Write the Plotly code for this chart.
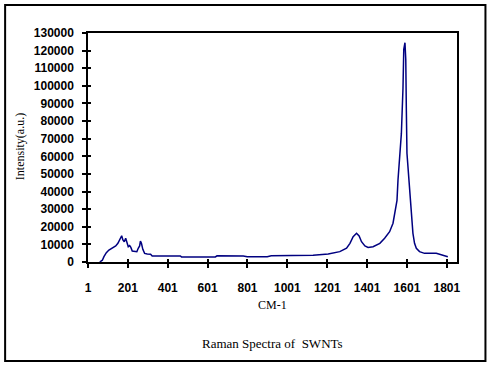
import plotly.graph_objects as go

# Raman shift (cm-1) and intensity
wavenumber = [60, 73, 81, 93, 106, 123, 140, 151, 161, 170, 176, 183, 190, 196, 203,
              210, 216, 223, 236, 246, 253, 260, 264, 269, 276, 285, 298, 315, 323,
              340, 400, 464, 470, 560, 640, 648, 700, 780, 800, 900, 920, 1000, 1064,
              1130, 1206, 1264, 1298, 1315, 1331, 1348, 1361, 1373, 1390, 1406, 1431,
              1465, 1489, 1514, 1531, 1544, 1551, 1556, 1564, 1573, 1581, 1585, 1591,
              1595, 1598, 1601, 1611, 1619, 1626, 1631, 1639, 1648, 1664, 1689, 1748,
              1773, 1806]
intensity = [0, 1000, 3000, 5300, 6800, 8100, 9100, 10600, 12500, 14900, 12500, 11500,
             13500, 10600, 8700, 9300, 8300, 6200, 5800, 5800, 7800, 9100, 11900, 10600,
             7200, 4900, 4500, 4400, 3400, 3400, 3400, 3400, 2900, 2900, 2900, 3500, 3500,
             3400, 3000, 3000, 3600, 3600, 3500, 3800, 4500, 5900, 7800, 10600, 14400,
             16300, 14800, 11500, 9100, 8300, 8700, 10600, 13500, 17200, 22000, 31400,
             35000, 46500, 61700, 73000, 98600, 120800, 124500, 115000, 85900, 61700,
             46500, 33300, 23800, 16300, 10600, 7800, 5900, 4900, 4900, 4000, 3000]

x_ticks = [1, 201, 401, 601, 801, 1001, 1201, 1401, 1601, 1801]
y_ticks = list(range(0, 130001, 10000))

title_text = "Raman Spectra of \u00a0SWNTs"
x_title = "CM-1"
y_title = "Intensity(a.u.)"

X_RANGE = [1, 1852]
Y_RANGE = [0, 130000]

tick_font = dict(family="Liberation Sans, Arial, sans-serif", size=12, color="black",
                 weight="bold")
serif = dict(family="Liberation Serif, Times New Roman, serif", size=12, color="black")

fig = go.Figure()
fig.add_trace(go.Scatter(x=wavenumber, y=intensity, mode="lines",
                         line=dict(color="#000080", width=1.5), showlegend=False))

fig.update_layout(
    width=492, height=366,
    margin=dict(l=88, r=34.5, t=33, b=104),
    paper_bgcolor="white", plot_bgcolor="white",
    xaxis=dict(range=X_RANGE, tickvals=x_ticks, ticktext=[str(v) for v in x_ticks],
               showgrid=False, zeroline=False, showline=True, linecolor="black",
               linewidth=1.5, mirror=True, ticks="outside", ticklen=4, tickwidth=1.5,
               tickcolor="black", tickfont=tick_font, ticklabelstandoff=10),
    yaxis=dict(range=Y_RANGE, tickvals=y_ticks, ticktext=[str(v) for v in y_ticks],
               showgrid=False, zeroline=False,
               showline=True, linecolor="black", linewidth=1.5, mirror=True,
               ticks="outside", ticklen=4, tickwidth=1.5, tickcolor="black",
               tickfont=tick_font, ticklabelstandoff=6),
    xaxis2=dict(range=X_RANGE, overlaying="x", tickvals=x_ticks, showticklabels=False,
                showgrid=False, zeroline=False, ticks="inside", ticklen=3, tickwidth=1.5,
                tickcolor="black", side="bottom"),
    yaxis2=dict(range=Y_RANGE, overlaying="y", tickvals=y_ticks, showticklabels=False,
                showgrid=False, zeroline=False, ticks="inside", ticklen=3, tickwidth=1.5,
                tickcolor="black", side="left"),
    annotations=[
        dict(text=y_title, xref="paper", yref="paper", x=-0.184, y=0.502, textangle=-90,
             showarrow=False, font=serif, xanchor="center", yanchor="middle"),
        dict(text=x_title, xref="paper", yref="paper", x=0.5, y=-0.186,
             showarrow=False, font=serif, xanchor="center", yanchor="middle"),
        dict(text=title_text, xref="paper", yref="paper", x=0.5, y=-0.354,
             showarrow=False, font=dict(family="Liberation Serif, Times New Roman, serif",
                                        size=13, color="black"),
             xanchor="center", yanchor="middle"),
    ],
    shapes=[dict(type="rect", xref="paper", yref="paper", x0=-0.2246, x1=1.0771,
                 y0=-0.4323, y1=1.1223, line=dict(color="black", width=2),
                 fillcolor="rgba(0,0,0,0)", layer="above")],
)
# invisible helper trace so the overlaying axes are drawn
fig.add_trace(go.Scatter(x=[X_RANGE[0]], y=[Y_RANGE[0]], xaxis="x2", yaxis="y2",
                         mode="markers", marker=dict(opacity=0), hoverinfo="skip",
                         showlegend=False))

fig.write_html("out.html", config={"displayModeBar": False},
               post_script="document.body.style.margin='0';document.body.style.overflow='hidden';")
